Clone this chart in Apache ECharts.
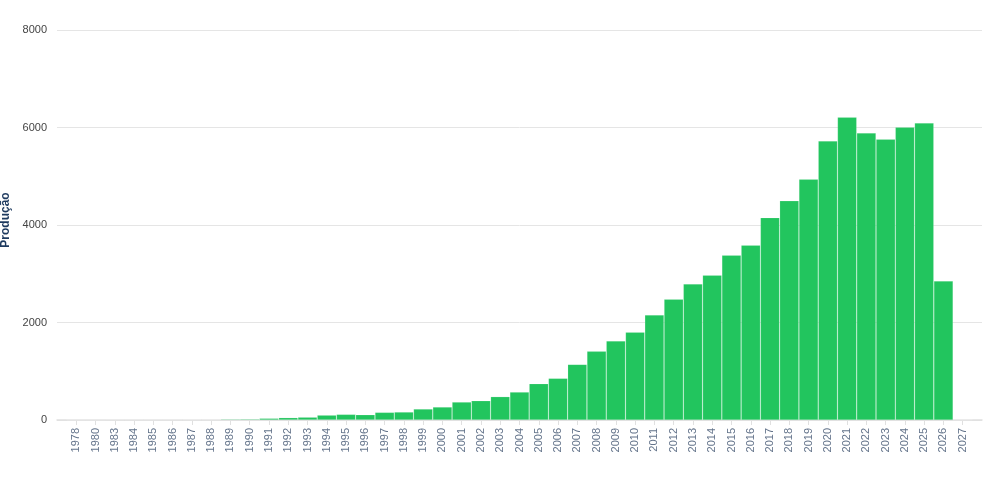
<!DOCTYPE html>
<html>
<head>
    <meta charset="utf-8">
    <title>Produção por ano</title>
    <script src="https://cdn.jsdelivr.net/npm/echarts@6/dist/echarts.min.js"></script>
    <style>
        html, body { margin: 0; padding: 0; background: #fff; }
        #main { width: 992px; height: 500px; }
    </style>
</head>
<body>
<div id="main"></div>
<script type="text/javascript">
// anos (eixo x)
var years = ['1978', '1980', '1983', '1984', '1985', '1986', '1987', '1988', '1989', '1990',
    '1991', '1992', '1993', '1994', '1995', '1996', '1997', '1998', '1999', '2000',
    '2001', '2002', '2003', '2004', '2005', '2006', '2007', '2008', '2009', '2010',
    '2011', '2012', '2013', '2014', '2015', '2016', '2017', '2018', '2019', '2020',
    '2021', '2022', '2023', '2024', '2025', '2026', '2027'];

// produção por ano
var producao = [1, 1, 2, 3, 6, 7, 8, 10, 18, 20,
    35, 48, 58, 100, 116, 109, 157, 164, 226, 267,
    369, 396, 479, 574, 745, 855, 1142, 1409, 1622, 1800,
    2154, 2478, 2790, 2970, 3380, 3585, 4152, 4497, 4938, 5723,
    6210, 5887, 5760, 6004, 6092, 2851, 2];

var yTicks = [0, 2000, 4000, 6000, 8000];

// uma categoria vazia em cada ponta, como no original
var cats = [''].concat(years, ['']);
var vals = [null].concat(producao, [null]);

var myChart = echarts.init(document.getElementById('main'));

var option = {
    animation: false,
    textStyle: { fontFamily: 'Liberation Sans, Arial, sans-serif' },
    grid: { left: 57, right: 10, top: 30, bottom: 80, containLabel: false, outerBoundsMode: 'none' },
    xAxis: {
        type: 'category',
        data: cats,
        boundaryGap: false,
        axisLine: { lineStyle: { color: '#e0e0e0', width: 1.5 } },
        axisTick: {
            alignWithLabel: true,
            interval: function (i) { return i > 0 && i < cats.length - 1; },
            lineStyle: { color: '#e0e0e0' }
        },
        axisLabel: {
            interval: 0,
            rotate: 90,
            color: '#64748b',
            fontSize: 11,
            margin: 8
        },
        splitLine: { show: false }
    },
    yAxis: {
        type: 'value',
        min: yTicks[0],
        max: yTicks[yTicks.length - 1],
        interval: 2000,
        name: 'Produção',
        nameLocation: 'middle',
        nameGap: 39,
        nameTextStyle: { color: '#1e3a5f', fontWeight: 'bold', fontSize: 12, padding: [0, 0, 0, 10] },
        axisLine: { show: false },
        axisTick: { show: false },
        axisLabel: {
            color: '#444',
            fontSize: 11,
            margin: 10,
            formatter: function (v) { return String(v); }
        },
        splitLine: { lineStyle: { color: '#e5e5e5' } }
    },
    series: [{
        name: 'Produção',
        type: 'bar',
        data: vals,
        barCategoryGap: '0%',
        itemStyle: {
            color: '#22c55e',
            borderColor: 'rgba(255,255,255,0.25)',
            borderWidth: 0.6
        }
    }]
};

myChart.setOption(option);
</script>
</body>
</html>
